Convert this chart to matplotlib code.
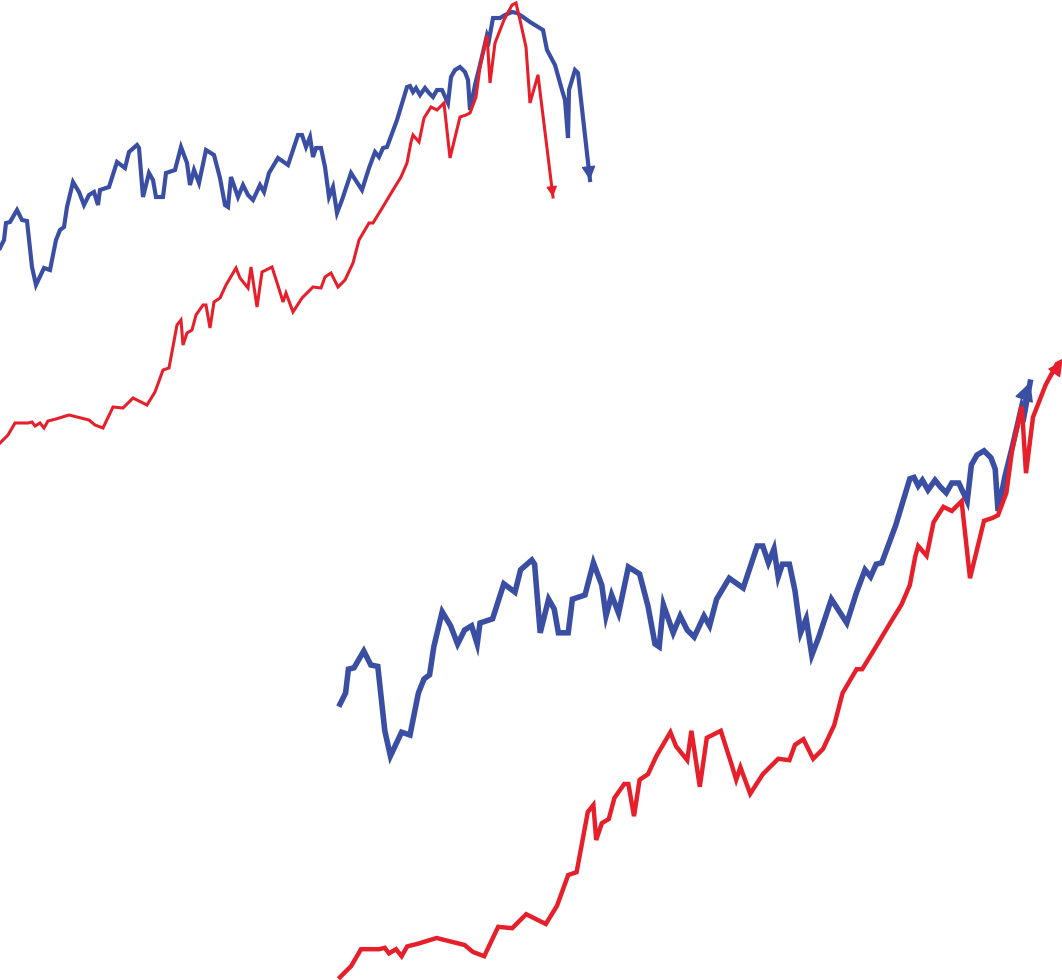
import matplotlib
matplotlib.use("Agg")
import matplotlib.pyplot as plt
import numpy as np

# blue series (period, level)
blue_x = [0, 4, 6, 10, 17, 22, 27, 32, 36, 44, 50, 56, 60, 64, 67, 73, 79, 84, 89, 94,
          98, 100, 109, 117, 125, 129, 137, 139, 143, 149, 153, 156, 163, 166, 175, 181, 187, 190, 194, 199,
          206, 214, 220, 225, 228, 231, 238, 243, 248, 253, 260, 264, 269, 278, 288, 298, 302, 306, 310, 313,
          316, 321, 325, 329, 333, 337, 342, 351, 362, 369, 375, 379, 383, 387, 397, 407, 410, 413, 416, 420,
          425, 429, 433, 437, 442, 448, 451, 455, 460, 465, 468, 470, 475, 480, 487, 489, 493, 500, 505, 512,
          517, 523, 530, 543, 547, 555, 562, 565, 568, 569, 575, 578, 590]
blue_y = [202, 210, 227, 228, 240, 230, 229, 183, 165, 182, 180, 210, 220, 223, 243, 268, 258, 245, 255, 258,
          245, 260, 263, 288, 282, 298, 305, 302, 253, 277, 270, 253, 253, 277, 280, 303, 287, 265, 280, 267,
          300, 295, 272, 245, 243, 273, 253, 265, 255, 250, 265, 258, 277, 292, 285, 315, 315, 303, 313, 293,
          302, 302, 283, 253, 263, 237, 250, 277, 260, 282, 298, 293, 302, 303, 330, 363, 364, 358, 362, 355,
          362, 357, 353, 360, 360, 347, 373, 380, 383, 378, 370, 340, 365, 385, 415, 410, 432, 432, 435, 438,
          437, 433, 428, 420, 400, 385, 360, 350, 312, 360, 380, 377, 270]

# red series
red_x = [0, 8, 15, 28, 32, 35, 40, 44, 48, 56, 69, 89, 95, 103, 113, 123, 133, 147, 155, 163,
         169, 177, 181, 183, 187, 192, 196, 203, 206, 210, 214, 220, 226, 236, 240, 248, 251, 257, 262, 272,
         280, 283, 286, 293, 302, 313, 321, 325, 331, 338, 345, 353, 359, 369, 373, 381, 393, 401, 407, 411,
         413, 419, 424, 431, 437, 444, 450, 460, 466, 470, 476, 480, 487, 490, 495, 504, 512, 516, 520, 526,
         530, 538, 553]
red_y = [7, 15, 27, 27, 28, 24, 27, 22, 29, 31, 35, 30, 25, 22, 43, 42, 52, 45, 58, 80,
         82, 125, 130, 105, 117, 120, 135, 145, 145, 122, 148, 152, 165, 182, 172, 162, 183, 143, 178, 183,
         158, 148, 157, 138, 152, 163, 162, 173, 177, 163, 170, 187, 210, 227, 227, 240, 260, 273, 287, 308,
         315, 308, 332, 343, 340, 347, 292, 333, 335, 337, 353, 383, 415, 367, 407, 430, 445, 447, 430, 403,
         347, 375, 253]

# the lower copy stops at the peak
blue_cut = 493
red_cut = 516

BLUE = "#3a4ea3"
RED = "#e61f2b"

W, H = 1062, 980
fig = plt.figure(figsize=(W / 100, H / 100), dpi=100)


def draw(ax, xs, ys, color, lw, head, back=2):
    ax.plot(xs, ys, color=color, lw=lw, solid_joinstyle="miter", clip_on=False)
    # arrow head at the end, pointing along the last stretch
    ax.annotate("", xy=(xs[-1], ys[-1]), xytext=(xs[-back], ys[-back]),
                arrowprops=dict(arrowstyle="-|>,head_length=0.7,head_width=0.36",
                                color=color, lw=1, mutation_scale=head,
                                shrinkA=0, shrinkB=0),
                annotation_clip=False)


def setup(ax):
    ax.set_xlim(0, 600)
    ax.set_ylim(0, 450)
    ax.axis("off")


# upper chart: full series, falling away at the end
ax1 = fig.add_axes([0, (H - 450) / H, 600 / W, 450 / H])
setup(ax1)
draw(ax1, blue_x, blue_y, BLUE, 3.0, 12)
draw(ax1, red_x, red_y, RED, 2.2, 9)

# lower chart: 1.4x larger, cut at the top
s = 1.4
ax2 = fig.add_axes([340 / W, (H - 357 - 450 * s) / H, 600 * s / W, 450 * s / H])
setup(ax2)
bx = np.array(blue_x)
rx = np.array(red_x)
nb = int((bx <= blue_cut).sum())
nr = int((rx <= red_cut).sum())
draw(ax2, blue_x[:nb], blue_y[:nb], BLUE, 4.0, 17, back=3)
draw(ax2, red_x[:nr], red_y[:nr], RED, 3.2, 13, back=3)

fig.savefig("out.png", dpi=100, facecolor="white")
